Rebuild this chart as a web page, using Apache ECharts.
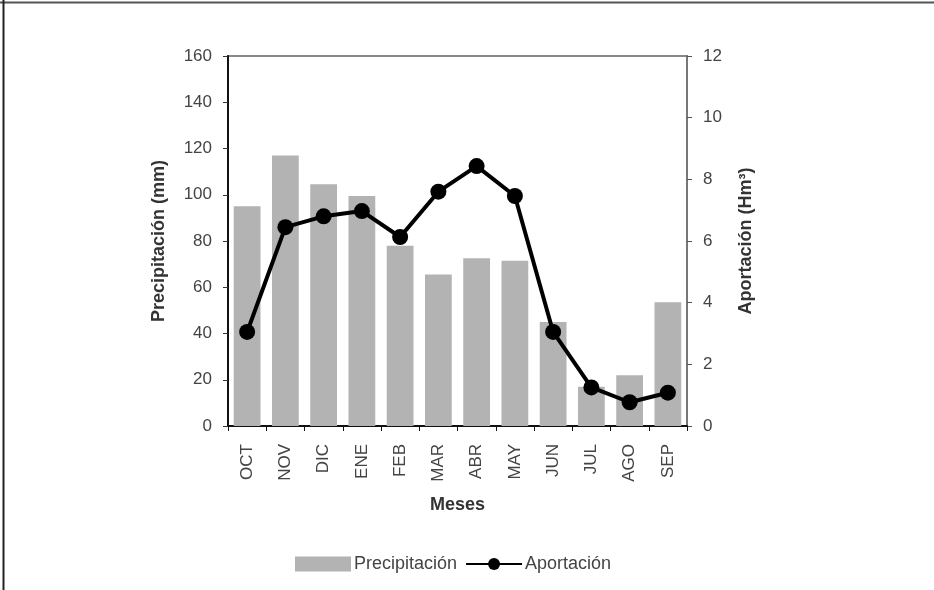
<!DOCTYPE html>
<html><head><meta charset="utf-8">
<script src="https://cdn.jsdelivr.net/npm/echarts@6/dist/echarts.min.js"></script>
<style>html,body{margin:0;padding:0;background:#fff}#c{width:934px;height:590px}</style>
</head><body><div id="c"></div>
<script>
const months = ['OCT','NOV','DIC','ENE','FEB','MAR','ABR','MAY','JUN','JUL','AGO','SEP'];
const precipitacion = [95, 117, 104.5, 99.5, 78, 65.5, 72.5, 71.5, 45, 17, 22, 53.5];
const aportacion = [3.05, 6.45, 6.8, 6.97, 6.13, 7.6, 8.43, 7.46, 3.05, 1.25, 0.77, 1.08];
const leftTicks = {min: 0, max: 160, interval: 20};
const rightTicks = {min: 0, max: 12, interval: 2};

const font = 'Liberation Sans, Arial, sans-serif';
const chart = echarts.init(document.getElementById('c'), null, {renderer: 'canvas'});
chart.setOption({
  animation: false,
  backgroundColor: '#fff',
  textStyle: {fontFamily: font},
  graphic: [
    {type: 'line', shape: {x1: 0, y1: 2.5, x2: 934, y2: 2.5}, style: {stroke: '#555', lineWidth: 2}},
    {type: 'line', shape: {x1: 3.5, y1: 0, x2: 3.5, y2: 590}, style: {stroke: '#222', lineWidth: 2}}
  ],
  grid: {left: 228, right: 247, top: 56, bottom: 164, show: true, borderColor: '#888', borderWidth: 2, backgroundColor: 'transparent'},
  legend: {
    top: 550, left: 290,
    itemWidth: 56, itemHeight: 15, itemGap: 8,
    textStyle: {fontFamily: font, fontSize: 18, color: '#444', padding: [0, 0, 0, -2]},
    data: [
      {name: 'Precipitación', icon: 'rect'},
      {name: 'Aportación'}
    ]
  },
  xAxis: {
    type: 'category', data: months, boundaryGap: true,
    name: 'Meses', nameLocation: 'middle', nameGap: 70,
    nameTextStyle: {fontFamily: font, fontSize: 18, fontWeight: 'bold', color: '#333'},
    axisLine: {lineStyle: {color: '#111', width: 2}},
    axisTick: {show: true, inside: false, length: 5, lineStyle: {color: '#111'}},
    axisLabel: {rotate: 90, fontSize: 17, color: '#444', margin: 18, fontFamily: font}
  },
  yAxis: [
    {
      type: 'value', min: leftTicks.min, max: leftTicks.max, interval: leftTicks.interval,
      name: 'Precipitación (mm)', nameLocation: 'middle', nameGap: 60, nameRotate: 90,
      nameTextStyle: {fontFamily: font, fontSize: 18, fontWeight: 'bold', color: '#333'},
      axisLine: {show: true, lineStyle: {color: '#111', width: 2}},
      axisTick: {show: true, length: 5, lineStyle: {color: '#333'}},
      axisLabel: {fontSize: 17, color: '#444', margin: 16, fontFamily: font},
      splitLine: {show: false}
    },
    {
      type: 'value', min: rightTicks.min, max: rightTicks.max, interval: rightTicks.interval,
      position: 'right',
      name: 'Aportación (Hm³)', nameLocation: 'middle', nameGap: 50, nameRotate: 90,
      nameTextStyle: {fontFamily: font, fontSize: 18, fontWeight: 'bold', color: '#333'},
      axisLine: {show: true, lineStyle: {color: '#777', width: 2}},
      axisTick: {show: true, length: 5, lineStyle: {color: '#555'}},
      axisLabel: {fontSize: 17, color: '#444', margin: 16, fontFamily: font},
      splitLine: {show: false}
    }
  ],
  series: [
    {
      name: 'Precipitación', type: 'bar', yAxisIndex: 0, data: precipitacion,
      barCategoryGap: '30%', itemStyle: {color: '#b3b3b3'}
    },
    {
      name: 'Aportación', type: 'line', yAxisIndex: 1, data: aportacion,
      symbol: 'circle', symbolSize: 16,
      lineStyle: {color: '#000', width: 4}, itemStyle: {color: '#000'}
    }
  ]
});
</script></body></html>
